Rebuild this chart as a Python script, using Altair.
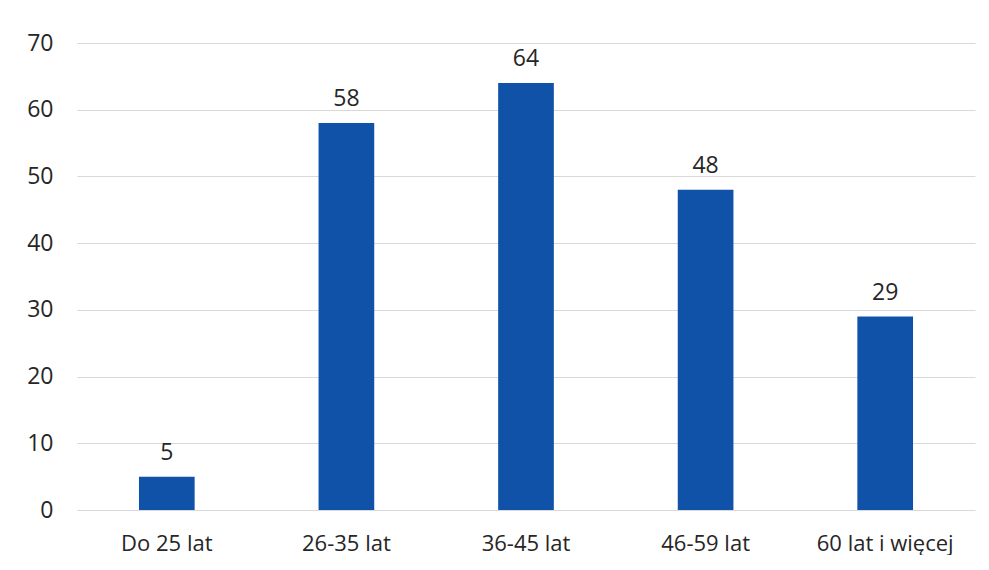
import altair as alt
import pandas as pd

categories = ["Do 25 lat", "26-35 lat", "36-45 lat", "46-59 lat", "60 lat i więcej"]
values = [5, 58, 64, 48, 29]

df = pd.DataFrame({"cat": categories, "val": values})

FONT = "Open Sans"
x = alt.X("cat:N", sort=categories, title=None,
          scale=alt.Scale(paddingInner=0.69, paddingOuter=0.345),
          axis=alt.Axis(labelAngle=0, labelFontSize=22, labelColor="#262626",
                        labelFont=FONT, ticks=False, domain=False, labelPadding=23))
y = alt.Y("val:Q", title=None, scale=alt.Scale(domain=[0, 70]),
          axis=alt.Axis(values=[0, 10, 20, 30, 40, 50, 60, 70], labelFontSize=23,
                        labelColor="#262626", labelFont=FONT, ticks=False, domain=False,
                        labelPadding=24, gridColor="#d9d9d9", gridWidth=1))

bars = alt.Chart(df).mark_bar(color="#0f52a8").encode(x=x, y=y)
labels = alt.Chart(df).mark_text(dy=-12, fontSize=23, font=FONT, color="#262626",
                                 baseline="bottom").encode(
    x=alt.X("cat:N", sort=categories), y="val:Q", text="val:Q")

chart = (bars + labels).properties(
    width=898, height=467,
    background="white",
    autosize=alt.AutoSizeParams(type="none"),
    padding={"left": 69, "top": 35, "right": 6, "bottom": 45},
).configure_view(stroke=None)

chart.save("out.html", embed_options={"renderer": "svg", "actions": False})
